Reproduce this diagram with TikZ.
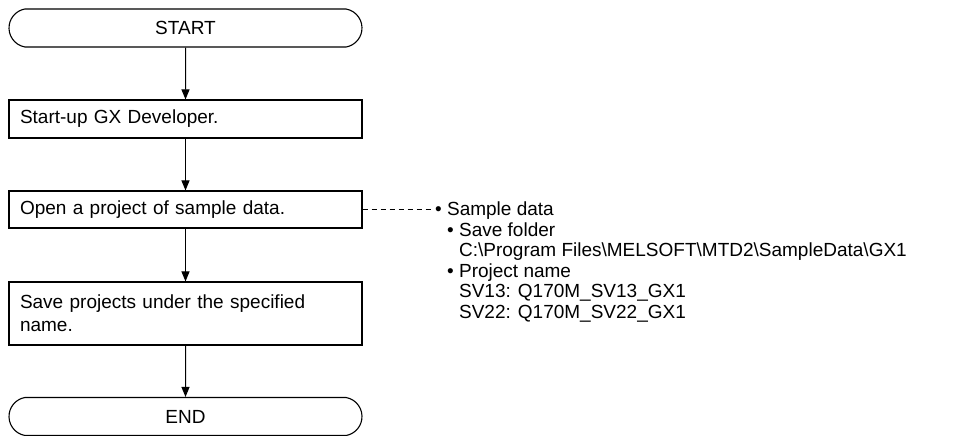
\documentclass[tikz,border=0pt]{standalone}
\usepackage{fontspec}
\setmainfont{Liberation Sans}
\usetikzlibrary{shapes.misc,arrows.meta}
\begin{document}
\begin{tikzpicture}[x=1pt,y=-1pt,
  every node/.style={font=\fontsize{19}{23}\selectfont},
  terminal/.style={draw,line width=1.1pt,rounded rectangle,rounded rectangle arc length=160,
    minimum width=353pt,minimum height=38pt,inner sep=0pt},
  stepbox/.style={draw,line width=1.1pt,rectangle,minimum width=353pt,
    text width=331pt,inner xsep=11pt,inner ysep=0pt,align=left},
  flow/.style={line width=1pt,-{Triangle[length=10pt,width=8pt]}},
  dashline/.style={line width=0.8pt,dash pattern=on 5pt off 4pt}]
  \useasboundingbox (0,0) rectangle (975,436);
  % flow chart column
  \node[terminal] (start) at (185.5,28) {START};
  \node[stepbox,minimum height=38pt] (boot) at (185.5,119) {Start-up GX Developer.};
  \node[stepbox,minimum height=37pt] (open) at (185.5,209.5) {Open a project of sample data.};
  \node[stepbox,minimum height=63pt] (save) at (185.5,313.5) {Save projects under the specified\\name.};
  \node[terminal] (end) at (185.5,416.5) {END};
  \draw[flow] (start) -- (boot);
  \draw[flow] (boot) -- (open);
  \draw[flow] (open) -- (save);
  \draw[flow] (save) -- (end);
  % note on the sample data
  \node[anchor=north west,inner sep=0pt,align=left,font=\fontsize{19}{20.5}\selectfont] (notes) at (435,202)
    {\textbullet\ Sample data\\
     \hspace*{12pt}\textbullet\ Save folder\\
     \hspace*{12pt}\phantom{\textbullet\ }C:\textbackslash Program Files\textbackslash MELSOFT\textbackslash MTD2\textbackslash SampleData\textbackslash GX1\\
     \hspace*{12pt}\textbullet\ Project name\\
     \hspace*{12pt}\phantom{\textbullet\ }SV13: Q170M\_SV13\_GX1\\
     \hspace*{12pt}\phantom{\textbullet\ }SV22: Q170M\_SV22\_GX1};
  \coordinate (noteend) at (432,209.5);
  \draw[dashline] (open.east) -- (noteend);
\end{tikzpicture}
\end{document}
